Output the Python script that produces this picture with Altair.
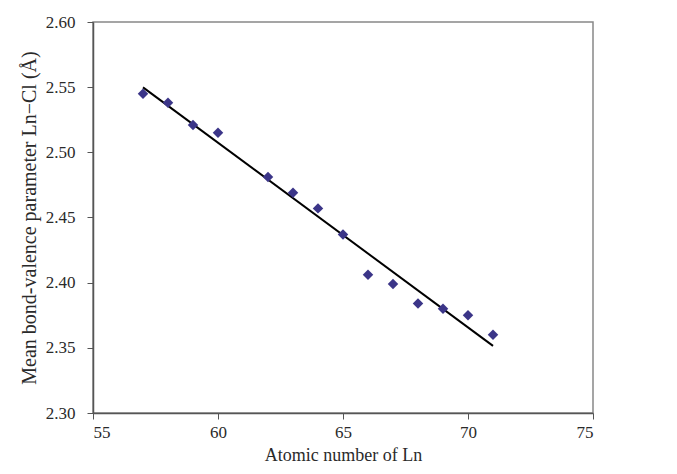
import altair as alt
import pandas as pd

atomic_number = [57, 58, 59, 60, 62, 63, 64, 65, 66, 67, 68, 69, 70, 71]
bv_param = [2.545, 2.538, 2.521, 2.515, 2.481, 2.469, 2.457, 2.437, 2.406, 2.399, 2.384, 2.380, 2.375, 2.360]

df = pd.DataFrame({"z": atomic_number, "r": bv_param})

font = "Liberation Serif"

x = alt.X("z:Q", scale=alt.Scale(domain=[55, 75], nice=False),
          axis=alt.Axis(title="Atomic number of Ln", values=[55, 60, 65, 70, 75], format="d"))
y = alt.Y("r:Q", scale=alt.Scale(domain=[2.30, 2.60], nice=False, zero=False),
          axis=alt.Axis(title="Mean bond-valence parameter Ln\u2212Cl (\u00c5)",
                        values=[2.30, 2.35, 2.40, 2.45, 2.50, 2.55, 2.60], format=".2f"))

points = alt.Chart(df).mark_point(shape="diamond", filled=True, color="#3b3588", size=110, opacity=1).encode(x=x, y=y)

line = alt.Chart(df).transform_regression("z", "r", extent=[57, 71]).mark_line(
    color="black", strokeWidth=2).encode(x=x, y=y)

chart = (line + points).properties(
    width=500, height=391,
    autosize=alt.AutoSizeParams(type="none"),
    padding={"left": 85, "top": 14, "right": 10, "bottom": 58},
).configure_view(stroke="#888888", strokeWidth=1.5).configure_axis(
    grid=False, domainColor="#555555", tickColor="#555555", domainWidth=1.5,
    tickSize=6, labelFont=font, titleFont=font, labelFontSize=17,
    labelColor="#2a2a2a", titleColor="#2a2a2a", titleFontWeight="normal",
).configure_axisY(titlePadding=6, titleFontSize=20, labelPadding=12).configure_axisX(
    titlePadding=6, titleFontSize=18, labelPadding=5)

chart.save("out.html", embed_options={"renderer": "svg", "actions": False})
